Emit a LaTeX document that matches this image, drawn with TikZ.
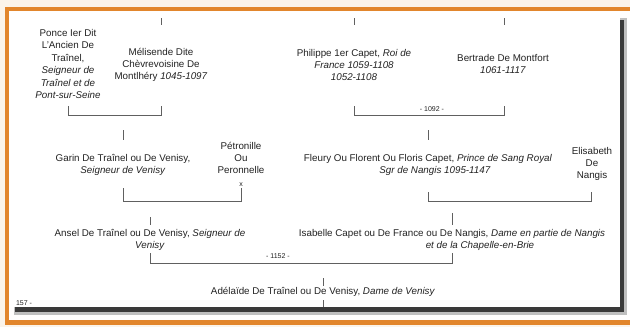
\documentclass[tikz,border=0pt]{standalone}
\usepackage{fontspec}
\setmainfont{Liberation Sans}
\definecolor{frameorange}{HTML}{E2862C}
\definecolor{bgcream}{HTML}{FBF4EA}
\definecolor{shadowgray}{HTML}{3A3A3A}
\definecolor{txt}{HTML}{222222}
\definecolor{linegray}{HTML}{606060}
\begin{document}
\begin{tikzpicture}[x=1pt,y=-1pt,
  person/.style={align=center, inner sep=0pt, font=\fontsize{9.8}{12.4}\selectfont, text=txt},
  conn/.style={draw=linegray, line width=0.8pt},
  yearlbl/.style={font=\fontsize{7}{8}\selectfont, text=txt, inner sep=0pt}]
\useasboundingbox (0,0) rectangle (630,327);
% frame
\fill[bgcream] (0,0) rectangle (630,327);
\fill[frameorange] (5,7) rectangle (630,325);
\fill[white!94!bgcream] (9,11) rectangle (630,320);
\fill[black!25] (14,18) rectangle (627,315);
\fill[shadowgray] (15,20) rectangle (624,312);
\fill[white] (10,12) rectangle (620,307);

% generation 1
\node[person] (ponce) at (68,64) {Ponce Ier Dit\\L'Ancien De\\Traînel,\\\textit{Seigneur de}\\\textit{Traînel et de}\\\textit{Pont-sur-Seine}};
\node[person] (melisende) at (161,65) {Mélisende Dite\\Chèvrevoisine De\\Montlhéry \textit{1045-1097}};
\node[person] (philippe) at (354,65) {Philippe 1er Capet, \textit{Roi de}\\\textit{France 1059-1108}\\\textit{1052-1108}};
\node[person] (bertrade) at (503,64) {Bertrade De Montfort\\\textit{1061-1117}};

% generation 2
\node[person] (garin) at (123,165) {Garin De Traînel ou De Venisy,\\\textit{Seigneur de Venisy}};
\node[person] (petronille) at (241,164) {Pétronille\\Ou\\Peronnelle\\{\fontsize{7}{8}\selectfont x}};
\node[person] (fleury) at (428,165) {Fleury Ou Florent Ou Floris Capet, \textit{Prince de Sang Royal}\\\hspace*{14pt}\textit{Sgr de Nangis 1095-1147}};
\node[person] (elisabeth) at (592,164) {Elisabeth\\De\\Nangis};

% generation 3
\node[person] (ansel) at (150,240) {Ansel De Traînel ou De Venisy, \textit{Seigneur de}\\\textit{Venisy}};
\node[person] (isabelle) at (452,240) {Isabelle Capet ou De France ou De Nangis, \textit{Dame en partie de Nangis}\\\hspace*{56pt}\textit{et de la Chapelle-en-Brie}};

% generation 4
\node[person] (adelaide) at (323,292) {Adélaïde De Traînel ou De Venisy, \textit{Dame de Venisy}};

\node[yearlbl] (page) at (24,303) {157 -};

% coordinates
\coordinate (t1a) at (161,18); \coordinate (t1b) at (161,25);
\coordinate (t2a) at (354,18); \coordinate (t2b) at (354,25);
\coordinate (t3a) at (504,18); \coordinate (t3b) at (504,25);

\coordinate (m1l) at (68,106); \coordinate (m1lb) at (68,115);
\coordinate (m1r) at (161,106); \coordinate (m1rb) at (161,115);
\coordinate (m2l) at (354,106); \coordinate (m2lb) at (354,115);
\coordinate (m2r) at (504,106); \coordinate (m2rb) at (504,115);
\coordinate (c1a) at (123,130); \coordinate (c1b) at (123,140);
\coordinate (c2a) at (428,130); \coordinate (c2b) at (428,140);

\coordinate (m3l) at (123,188); \coordinate (m3lb) at (123,201);
\coordinate (m3r) at (241,188); \coordinate (m3rb) at (241,201);
\coordinate (m4l) at (428,192); \coordinate (m4lb) at (428,201);
\coordinate (m4r) at (591,192); \coordinate (m4rb) at (591,201);
\coordinate (c3a) at (150,217); \coordinate (c3b) at (150,225);
\coordinate (c4a) at (452,213); \coordinate (c4b) at (452,225);

\coordinate (m5l) at (150,253); \coordinate (m5lb) at (150,263);
\coordinate (m5r) at (452,253); \coordinate (m5rb) at (452,263);
\coordinate (c5a) at (323,278); \coordinate (c5b) at (323,286);
\coordinate (c6a) at (323,300); \coordinate (c6b) at (323,307);

% connectors
\draw[conn] (t1a) -- (t1b);
\draw[conn] (t2a) -- (t2b);
\draw[conn] (t3a) -- (t3b);
\draw[conn] (m1l) -- (m1lb) -- (m1rb) -- (m1r);
\draw[conn] (m2l) -- (m2lb) -- (m2rb) -- (m2r);
\draw[conn] (c1a) -- (c1b);
\draw[conn] (c2a) -- (c2b);
\draw[conn] (m3l) -- (m3lb) -- (m3rb) -- (m3r);
\draw[conn] (m4l) -- (m4lb) -- (m4rb) -- (m4r);
\draw[conn] (c3a) -- (c3b);
\draw[conn] (c4a) -- (c4b);
\draw[conn] (m5l) -- (m5lb) -- (m5rb) -- (m5r);
\draw[conn] (c5a) -- (c5b);
\draw[conn] (c6a) -- (c6b);

\node[yearlbl] (y1092) at (432,109) {- 1092 -};
\node[yearlbl] (y1152) at (278,256) {- 1152 -};
\end{tikzpicture}
\end{document}
